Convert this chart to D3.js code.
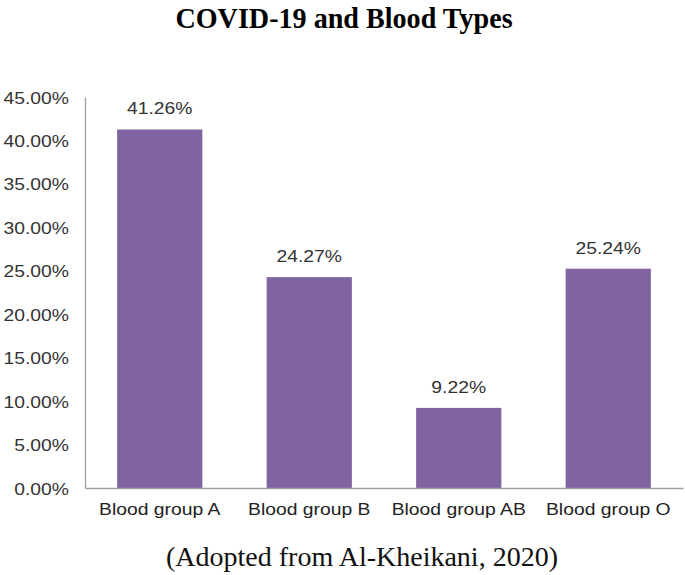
<!DOCTYPE html>
<html>
<head>
<meta charset="utf-8">
<script src="https://cdn.jsdelivr.net/npm/d3@7"></script>
<style>
  html, body { margin: 0; padding: 0; background: #fff; }
  svg { display: block; }
</style>
</head>
<body>
<svg id="chart" width="685" height="575"></svg>
<script>
const categories = ["Blood group A", "Blood group B", "Blood group AB", "Blood group O"];
const values = [41.26, 24.27, 9.22, 25.24];
const valueLabels = ["41.26%", "24.27%", "9.22%", "25.24%"];
const yTicks = [0, 5, 10, 15, 20, 25, 30, 35, 40, 45];
const titleText = "COVID-19 and Blood Types";
const captionText = "(Adopted from Al-Kheikani, 2020)";

const W = 685, H = 575;
const margin = { left: 85, right: 2, top: 97, bottom: 87 };
const sx = 1.15; // horizontal stretch of the chart picture

const svg = d3.select("#chart");

const x = d3.scaleBand()
  .domain(categories)
  .range([margin.left, W - margin.right])
  .paddingInner(0.43)
  .paddingOuter(0.215);

const y = d3.scaleLinear()
  .domain([0, 45])
  .range([H - margin.bottom, margin.top]);

function stretchedText(g, px, py, txt, opts) {
  const t = g.append("g")
    .attr("transform", `translate(${px},${py}) scale(${opts.sx || 1},1)`)
    .append("text")
    .attr("x", 0).attr("y", 0)
    .attr("text-anchor", opts.anchor || "middle")
    .attr("font-family", opts.family || "'Liberation Sans', Arial, sans-serif")
    .attr("font-size", opts.size)
    .attr("font-weight", opts.weight || "normal")
    .attr("fill", opts.fill || "#404040")
    .text(txt);
  return t;
}

// Title
stretchedText(svg, 344, 28, titleText, {
  sx: 0.97, size: 29, weight: "bold", family: "'Liberation Serif', 'Times New Roman', serif", fill: "#000"
});

// Bars
svg.append("g").selectAll("rect")
  .data(values)
  .join("rect")
  .attr("x", (d, i) => x(categories[i]))
  .attr("width", x.bandwidth())
  .attr("y", d => y(d))
  .attr("height", d => y(0) - y(d))
  .attr("fill", "#8064A2");

// Y axis
const yAxis = d3.axisLeft(y).tickValues(yTicks).tickSize(0).tickFormat(() => "");
const yg = svg.append("g").attr("transform", `translate(${margin.left},0)`).call(yAxis);
yg.select(".domain").attr("stroke", "#a0a0a0").attr("stroke-width", 1.3);
yg.selectAll(".tick").each(function(d) {
  stretchedText(d3.select(this), -16, 6, d3.format(".2f")(d) + "%", {
    sx: sx, size: 16.8, anchor: "end", fill: "#333"
  });
});

// X axis
const xAxis = d3.axisBottom(x).tickSize(0).tickFormat(() => "");
const xg = svg.append("g").attr("transform", `translate(0,${y(0)})`).call(xAxis);
xg.select(".domain").attr("stroke", "#a0a0a0").attr("stroke-width", 1.3);
xg.selectAll(".tick").each(function(d) {
  stretchedText(d3.select(this), 0, 27, d, { sx: sx, size: 16.8, fill: "#222" });
});

// Value labels
const lg = svg.append("g");
values.forEach((v, i) => {
  stretchedText(lg, x(categories[i]) + x.bandwidth() / 2, y(v) - 15, valueLabels[i], {
    sx: sx, size: 16.8, fill: "#333"
  });
});

// Caption
stretchedText(svg, 362, 566, captionText, {
  sx: 1.0, size: 28, family: "'Liberation Serif', 'Times New Roman', serif", fill: "#111"
});
</script>
</body>
</html>
